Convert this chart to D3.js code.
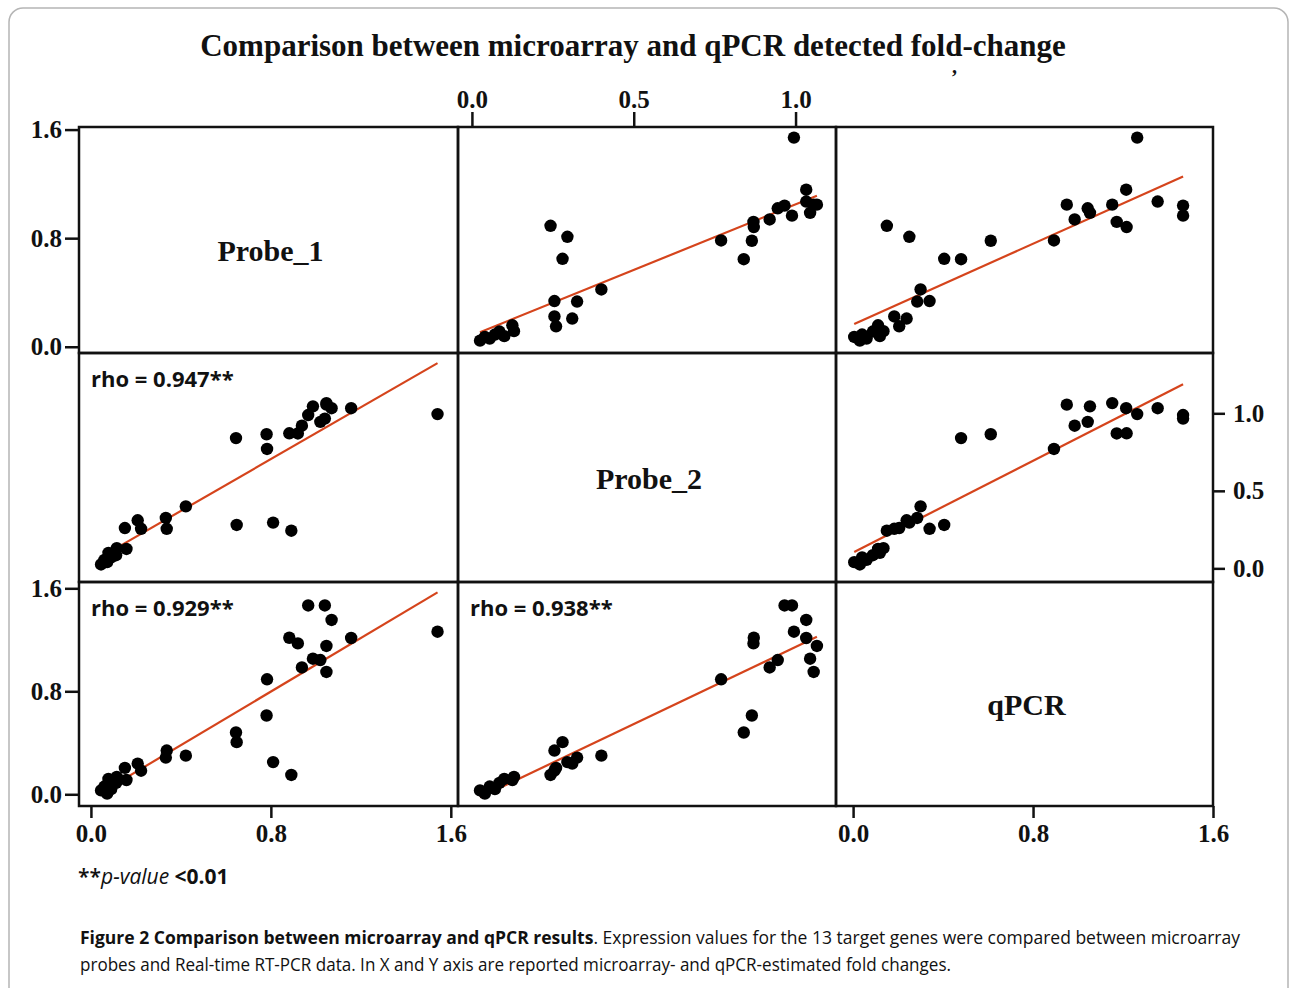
<!DOCTYPE html>
<html>
<head>
<meta charset="utf-8">
<script src="https://d3js.org/d3.v7.min.js"></script>
<style>
  body { margin: 0; background: #fff; }
  .cell { fill: none; stroke: #111; stroke-width: 2.5; }
  .axis path { display: none; }
  .axis line { stroke: #111; stroke-width: 2.5; }
  .axis text { font-family: "Liberation Serif", "Times New Roman", serif; font-weight: bold; font-size: 25px; fill: #111; }
  .serif { font-family: "Liberation Serif", "Times New Roman", serif; font-weight: bold; fill: #111; }
  .sans { font-family: "Open Sans", "Noto Sans", sans-serif; fill: #111; }
</style>
</head>
<body>
<div id="chart"></div>
<script>
const variables = ["Probe_1", "Probe_2", "qPCR"];
const probe1 = [0.045, 0.072, 0.060, 0.078, 0.112, 0.115, 0.158, 0.090,
  0.151, 0.208, 0.223, 0.337, 0.333, 0.422, 0.648, 0.645, 0.783, 0.781,
  0.810, 0.891, 0.882, 0.920, 0.938, 0.966, 0.987, 1.020, 1.040, 1.047,
  1.047, 1.070, 1.157, 1.541];
const probe2 = [0.025, 0.040, 0.055, 0.100, 0.085, 0.130, 0.125, 0.071,
  0.260, 0.310, 0.255, 0.255, 0.325, 0.400, 0.280, 0.840, 0.770, 0.865,
  0.295, 0.243, 0.871, 0.870, 0.920, 0.989, 1.045, 0.945, 0.966, 1.056,
  1.066, 1.033, 1.033, 0.995];
const qpcr = [0.030, 0.005, 0.060, 0.119, 0.088, 0.135, 0.111, 0.040,
  0.205, 0.238, 0.183, 0.340, 0.285, 0.300, 0.405, 0.480, 0.893, 0.612,
  0.250, 0.150, 1.216, 1.172, 0.985, 1.467, 1.053, 1.043, 1.467, 0.950,
  1.152, 1.354, 1.214, 1.263];

// spearman rho shown in the lower panels
const rhoRows = [1, 2, 2];
const rhoCols = [0, 0, 1];
const rhoValues = ["0.947", "0.929", "0.938"];

// tick labels for each variable
const ticks = [[0, 0.8, 1.6], [0, 0.5, 1.0], [0, 0.8, 1.6]];

const title = "Comparison between microarray and qPCR detected fold-change";
const captionBold = "Figure 2 Comparison between microarray and qPCR results";
const captionRest1 = ". Expression values for the 13 target genes were compared between microarray";
const captionLine2 = "probes and Real-time RT-PCR data. In X and Y axis are reported microarray- and qPCR-estimated fold changes.";

function splom() {

  let width = 1289,
    height = 988,
    cellX = [79, 458, 836, 1213], // column edges
    cellY = [127, 353, 582, 806], // row edges
    // axis ranges of each variable (x for columns, y for rows)
    xDomains = [[-0.053, 1.632], [-0.043, 1.125], [-0.076, 1.600]],
    yDomains = [[-0.046, 1.619], [-0.088, 1.389], [-0.091, 1.649]],
    lineColor = "#d5441c";

  function fit(xs, ys) {
    let mx = d3.mean(xs), my = d3.mean(ys);
    let sxy = d3.sum(xs, (x, i) => (x - mx) * (ys[i] - my));
    let sxx = d3.sum(xs, x => (x - mx) * (x - mx));
    let b = sxy / sxx;
    return { a: my - b * mx, b: b };
  }

  function chart(selector, columns) {

    let svg = d3.select(selector)
      .append("svg")
        .attr("width", width)
        .attr("height", height)
        .attr("viewBox", [0, 0, width, height].join(" "));

    // page frame
    svg.append("rect")
      .attr("x", 9).attr("y", 8)
      .attr("width", 1279).attr("height", 1010)
      .attr("rx", 14)
      .attr("fill", "none")
      .attr("stroke", "#b5b5b5")
      .attr("stroke-width", 1.5);

    let xScales = xDomains.map((d, i) => d3.scaleLinear().domain(d).range([cellX[i], cellX[i + 1]]));
    let yScales = yDomains.map((d, i) => d3.scaleLinear().domain(d).range([cellY[i + 1], cellY[i]]));

    let fmt = d3.format(".1f");

    // panels
    for (let r = 0; r < 3; r++) {
      for (let c = 0; c < 3; c++) {
        let g = svg.append("g");
        if (r === c) {
          g.append("text")
            .attr("class", "serif")
            .attr("x", (cellX[c] + cellX[c + 1]) / 2 + 2)
            .attr("y", (cellY[r] + cellY[r + 1]) / 2 + 21)
            .attr("text-anchor", "middle")
            .attr("font-size", 30)
            .text(variables[r]);
          continue;
        }
        let xs = columns[c], ys = columns[r];
        let x = xScales[c], y = yScales[r];
        let lm = fit(xs, ys);
        let [x0, x1] = d3.extent(xs);

        g.append("line")
          .attr("x1", x(x0)).attr("y1", y(lm.a + lm.b * x0))
          .attr("x2", x(x1)).attr("y2", y(lm.a + lm.b * x1))
          .attr("stroke", lineColor)
          .attr("stroke-width", 2.2);

        g.selectAll("circle")
          .data(xs.map((d, i) => [d, ys[i]]))
          .enter()
          .append("circle")
            .attr("cx", d => x(d[0]))
            .attr("cy", d => y(d[1]))
            .attr("r", 6.2)
            .attr("fill", "#000");
      }
    }

    // rho labels
    rhoValues.forEach((v, i) => {
      svg.append("text")
        .attr("class", "sans")
        .attr("x", cellX[rhoCols[i]] + 12)
        .attr("y", cellY[rhoRows[i]] + 34)
        .attr("font-size", 22)
        .attr("font-weight", "bold")
        .text("rho = " + v + "**");
    });

    // cell borders
    for (let r = 0; r < 3; r++) {
      for (let c = 0; c < 3; c++) {
        svg.append("rect")
          .attr("class", "cell")
          .attr("x", cellX[c]).attr("y", cellY[r])
          .attr("width", cellX[c + 1] - cellX[c])
          .attr("height", cellY[r + 1] - cellY[r]);
      }
    }

    // axes alternate round the matrix like R's pairs()
    svg.append("g").attr("class", "axis")
      .attr("transform", "translate(0," + cellY[0] + ")")
      .call(d3.axisTop(xScales[1]).tickValues(ticks[1]).tickFormat(fmt).tickSize(15).tickPadding(4));
    [0, 2].forEach(c => {
      svg.append("g").attr("class", "axis")
        .attr("transform", "translate(0," + cellY[3] + ")")
        .call(d3.axisBottom(xScales[c]).tickValues(ticks[c]).tickFormat(fmt).tickSize(12).tickPadding(6));
    });
    [0, 2].forEach(r => {
      svg.append("g").attr("class", "axis")
        .attr("transform", "translate(" + cellX[0] + ",0)")
        .call(d3.axisLeft(yScales[r]).tickValues(ticks[r]).tickFormat(fmt).tickSize(14).tickPadding(3));
    });
    svg.append("g").attr("class", "axis")
      .attr("transform", "translate(" + cellX[3] + ",0)")
      .call(d3.axisRight(yScales[1]).tickValues(ticks[1]).tickFormat(fmt).tickSize(12).tickPadding(8));

    // title
    svg.append("text")
      .attr("class", "serif")
      .attr("x", 633).attr("y", 56)
      .attr("text-anchor", "middle")
      .attr("font-size", 31)
      .text(title);

    // stray mark in the original scan
    svg.append("text")
      .attr("class", "serif")
      .attr("x", 951).attr("y", 84)
      .attr("font-size", 20)
      .text("\u2019");

    // footnote
    let foot = svg.append("text")
      .attr("class", "sans")
      .attr("x", 78).attr("y", 884)
      .attr("font-size", 21);
    foot.append("tspan").attr("font-weight", 600).text("**");
    foot.append("tspan").attr("font-style", "italic").text("p-value");
    foot.append("tspan").attr("font-weight", "bold").text(" <0.01");

    // caption
    let cap1 = svg.append("text")
      .attr("class", "sans")
      .attr("x", 80).attr("y", 944)
      .attr("font-size", 18)
      .attr("fill", "#222");
    cap1.append("tspan").attr("font-weight", "bold").text(captionBold);
    cap1.append("tspan").text(captionRest1);
    cap1.attr("textLength", 1160).attr("lengthAdjust", "spacingAndGlyphs");

    svg.append("text")
      .attr("class", "sans")
      .attr("x", 80).attr("y", 971)
      .attr("font-size", 18)
      .attr("fill", "#222")
      .attr("textLength", 871)
      .attr("lengthAdjust", "spacingAndGlyphs")
      .text(captionLine2);

    return chart;
  }

  chart.width = function (_) {
    if (!arguments.length) return width;
    width = _;
    return chart;
  };

  chart.height = function (_) {
    if (!arguments.length) return height;
    height = _;
    return chart;
  };

  return chart;
}

splom()("#chart", [probe1, probe2, qpcr]);
</script>
</body>
</html>
